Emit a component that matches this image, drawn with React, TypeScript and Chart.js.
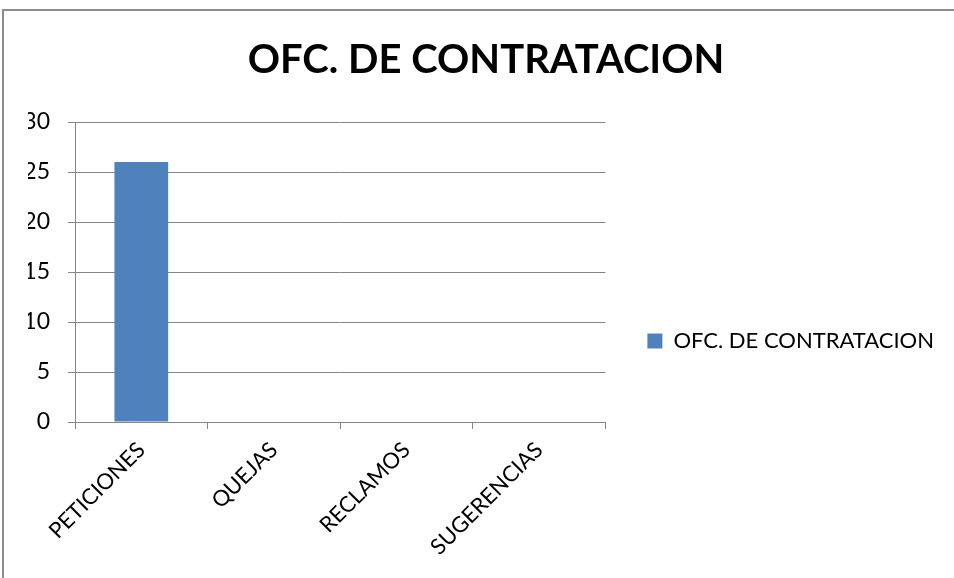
import React, { useEffect, useRef } from "react";
import { Chart, registerables } from "chart.js";

Chart.register(...registerables);

const chartTitle = "OFC. DE CONTRATACION";
const categories = ["PETICIONES", "QUEJAS", "RECLAMOS", "SUGERENCIAS"];
const seriesName = "OFC. DE CONTRATACION";
const seriesValues = [26, 0, 0, 0];
const yMin = 0;
const yMax = 30;
const yStep = 5;

const FONT = "Lato";
const GRID = "#868686";

export default function App() {
  const ref = useRef<HTMLCanvasElement>(null);

  useEffect(() => {
    if (!ref.current) return;
    const chart = new Chart(ref.current, {
      type: "bar",
      data: {
        labels: categories,
        datasets: [
          {
            label: seriesName,
            data: seriesValues,
            backgroundColor: "#4F81BD",
            borderWidth: 0,
            barPercentage: 0.405,
            categoryPercentage: 1,
          },
        ],
      },
      options: {
        responsive: false,
        animation: false,
        devicePixelRatio: 1,
        layout: { padding: { left: 24, right: 24, top: 0, bottom: 0 } },
        plugins: {
          title: {
            display: true,
            text: chartTitle,
            color: "#000",
            font: { family: FONT, size: 40, weight: "bold", lineHeight: 1.2 },
            padding: { top: 25, bottom: 38 },
          },
          legend: {
            position: "right",
            maxWidth: 500,
            labels: {
              boxWidth: 15,
              boxHeight: 15,
              padding: 42,
              color: "#000",
              font: { family: FONT, size: 22 },
            },
          },
          tooltip: { enabled: false },
        },
        scales: {
          x: {
            grid: {
              offset: true,
              drawOnChartArea: false,
              drawTicks: true,
              tickLength: 7,
              color: GRID,
            },
            border: { color: GRID },
            ticks: {
              minRotation: 45,
              maxRotation: 45,
              color: "#000",
              font: { family: FONT, size: 22 },
              padding: 8,
              labelOffset: 0,
            },
            afterFit: (s: any) => {
              s.height = 249;
            },
          },
          y: {
            min: yMin,
            max: yMax,
            ticks: {
              stepSize: yStep,
              padding: 18,
              color: "#000",
              font: { family: FONT, size: 23 },
            },
            grid: { color: GRID, tickLength: 7 },
            border: { color: GRID },
            afterFit: (s: any) => {
              s.width = 47;
            },
          },
        },
      },
    });
    return () => chart.destroy();
  }, []);

  return (
    <div
      style={{
        position: "fixed",
        left: 0,
        top: 0,
        width: 954,
        height: 578,
        overflow: "hidden",
        background: "#fff",
      }}
    >
      <div
        style={{
          position: "absolute",
          left: 2,
          top: 9,
          width: 1000,
          height: 700,
          borderTop: "2px solid #8c8c8c",
          borderLeft: "2px solid #8c8c8c",
        }}
      />
      <canvas
        ref={ref}
        width={964}
        height={660}
        style={{ position: "absolute", left: 4, top: 11, display: "block" }}
      />
    </div>
  );
}
